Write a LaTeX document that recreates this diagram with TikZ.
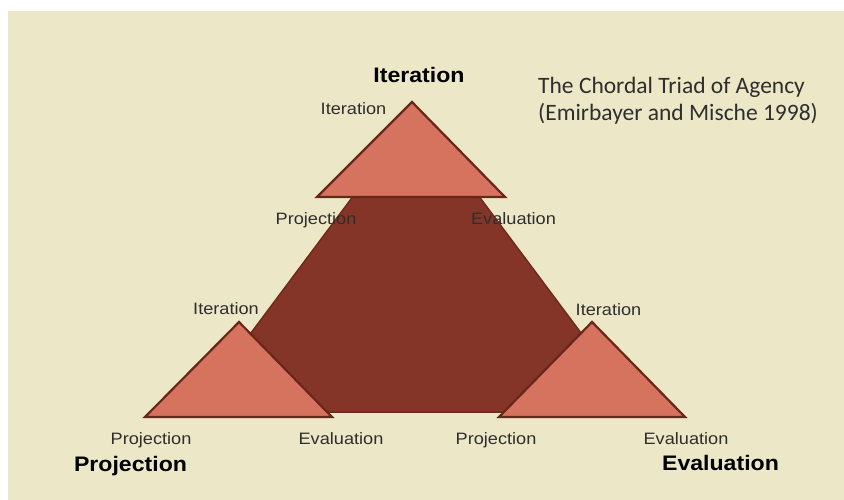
\documentclass[tikz,border=0pt]{standalone}
\usepackage{fontspec}
\newfontfamily\arialf[FakeStretch=1.1]{Liberation Sans}
\newfontfamily\calf{Carlito}
\definecolor{bgbeige}{HTML}{ECE7C7}
\definecolor{darkred}{HTML}{853528}
\definecolor{darkedge}{HTML}{6E2A1E}
\definecolor{salmon}{HTML}{D6735E}
\definecolor{salmonedge}{HTML}{6A2618}
\definecolor{labelgrey}{HTML}{2E2E2E}
\tikzset{
  smalltri/.style={fill=salmon, draw=salmonedge, line width=2.2pt, line join=miter},
  bigtri/.style={fill=darkred, draw=darkedge, line width=1.5pt},
  smalllab/.style={anchor=base, inner sep=0pt, text=labelgrey, font=\arialf\fontsize{16.5}{19}\selectfont},
  biglab/.style={anchor=base, inner sep=0pt, text=black, font=\arialf\bfseries\fontsize{21}{24}\selectfont},
  titlelab/.style={anchor=base west, inner sep=0pt, text=labelgrey, align=left, font=\calf\fontsize{23.5}{27}\selectfont}
}
\begin{document}
\begin{tikzpicture}[x=1pt,y=-1pt]
\useasboundingbox (0,0) rectangle (844,500);
\fill[white] (0,0) rectangle (844,500);
\fill[bgbeige] (8,11) rectangle (844,500);
% big triangle
\draw[bigtri] (416,112) -- (640,412) -- (192,412) -- cycle;
% small triangles
\draw[smalltri] (412,102) -- (505,197) -- (317,197) -- cycle;
\draw[smalltri] (239,322) -- (332,417) -- (145,417) -- cycle;
\draw[smalltri] (592,322) -- (685,417) -- (499,417) -- cycle;
% labels
\node[biglab] (titer) at (419,83) {Iteration};
\node[smalllab] (titerS) at (353.5,115) {Iteration};
\node[smalllab] (tproj) at (316,224) {Projection};
\node[smalllab] (teval) at (513.5,224) {Evaluation};
\node[smalllab] (liter) at (226,314) {Iteration};
\node[smalllab] (riter) at (608.5,315) {Iteration};
\node[smalllab] (lproj) at (151,444) {Projection};
\node[smalllab] (leval) at (341,444) {Evaluation};
\node[smalllab] (rproj) at (496,444) {Projection};
\node[smalllab] (reval) at (686,444) {Evaluation};
\node[biglab] (bproj) at (130.5,471.5) {Projection};
\node[biglab] (beval) at (720.5,470) {Evaluation};
\node[titlelab] (title) at (538,120.5) {The Chordal Triad of Agency\\(Emirbayer and Mische 1998)};
\end{tikzpicture}
\end{document}
